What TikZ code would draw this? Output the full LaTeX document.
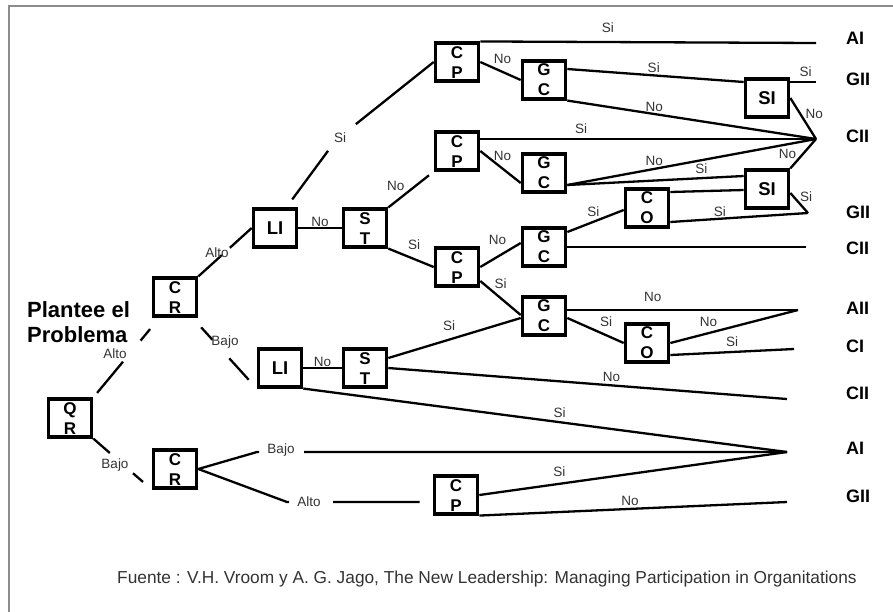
\documentclass[tikz,border=0pt]{standalone}
\usepackage{fontspec}
\setmainfont{Liberation Sans}
\usetikzlibrary{calc}
% two letters stacked inside a decision box, the lower one resting on the bottom edge
\newcommand\duo[2]{\vbox to 34pt{\vfil\baselineskip=20pt\lineskiplimit=-20pt
  \halign{\hfil##\hfil\cr#1\cr#2\cr}\vskip 1pt}}
\begin{document}
\begin{tikzpicture}[x=1pt,y=-1pt,
  box/.style={draw, line width=3.6pt, minimum width=43pt, minimum height=37.5pt,
    inner sep=0pt, font=\bfseries\fontsize{17}{17}\selectfont},
  single/.style={box, font=\bfseries\fontsize{18.5}{18.5}\selectfont},
  edge/.style={line width=2.3pt, line join=round},
  lbl/.style={font=\fontsize{13.5}{13.5}\selectfont, text=black!80, inner sep=1pt},
  outc/.style={anchor=west, font=\bfseries\fontsize{18}{18}\selectfont, inner sep=0pt},
  frame/.style={line width=2pt, draw=black!45},
]
\useasboundingbox (0,0) rectangle (893,611);
\fill[white] (0,0) rectangle (893,611);

% outer frame (runs off the right and bottom edges)
\draw[frame] (9,620) -- (9,6) -- (900,6);

% decision boxes
\node[box] (qr)  at (70,418)  {\duo{Q}{R}};
\node[box] (crt) at (175,297) {\duo{C}{R}};
\node[box] (crb) at (175,469) {\duo{C}{R}};
\node[single] (lit) at (275,228) {LI};
\node[box] (stt) at (365,228) {\duo{S}{T}};
\node[single] (lib) at (280,368) {LI};
\node[box] (stb) at (365,368) {\duo{S}{T}};
\node[box] (cp1) at (457,62)  {\duo{C}{P}};
\node[box] (cp2) at (457,151) {\duo{C}{P}};
\node[box] (cp3) at (457,267) {\duo{C}{P}};
\node[box] (cp4) at (456,495) {\duo{C}{P}};
\node[box] (gc1) at (544,80)  {\duo{G}{C}};
\node[box] (gc2) at (544,173) {\duo{G}{C}};
\node[box] (gc3) at (544,247) {\duo{G}{C}};
\node[box] (gc4) at (544,316) {\duo{G}{C}};
\node[box] (co1) at (647,208) {\duo{C}{O}};
\node[box] (co2) at (647,343) {\duo{C}{O}};
\node[single] (si1) at (767,98)  {SI};
\node[single] (si2) at (767,189) {SI};

% end points of the branches
\coordinate (e1)  at (816,43);
\coordinate (e2)  at (816,82);
\coordinate (e3)  at (816,139);
\coordinate (e4)  at (808,213);
\coordinate (e5)  at (806,247);
\coordinate (e6)  at (798,310);
\coordinate (e7)  at (794,349);
\coordinate (e8)  at (787,399);
\coordinate (e9)  at (787,452);
\coordinate (e10) at (787,502);
\coordinate (kb)  at (257,452);
\coordinate (ka)  at (287,502);
\coordinate (kl)  at (336,140);

% outcomes
\node[outc] (o1)  at (846,38.5)  {AI};
\node[outc] (o2)  at (846,79.5)  {GII};
\node[outc] (o3)  at (846,136.5) {CII};
\node[outc] (o4)  at (846,212.5) {GII};
\node[outc] (o5)  at (846,248.5) {CII};
\node[outc] (o6)  at (846,308.5) {AII};
\node[outc] (o7)  at (846,346)   {CI};
\node[outc] (o8)  at (846,393.5) {CII};
\node[outc] (o9)  at (846,448.5) {AI};
\node[outc] (o10) at (846,496.5) {GII};

% title and source
\node[anchor=north west, align=left, inner sep=0pt,
      font=\bfseries\fontsize{22}{25}\selectfont] (title) at (27,301) {Plantee el\\Problema};
\node[anchor=west, inner sep=0pt, text=black!80,
      font=\fontsize{17.3}{17.3}\selectfont] (src) at (117,579)
  {Fuente : V.H. Vroom y A. G. Jago, The New Leadership: Managing Participation in Organitations};

% left part of the tree (branches with a gap for the label)
\draw[edge, shorten <=5.9pt, shorten >=15pt, dash pattern=on 40.6pt off 27.5pt on 100pt]
  (qr.north east) -- ([xshift=8pt]crt.south west);
\node[lbl] (l1) at (115,354) {Alto};
\draw[edge, shorten >=11.6pt, dash pattern=on 21.9pt off 30.8pt on 100pt]
  (qr.south east) -- (crb.south west);
\node[lbl] (l2) at (115,465) {Bajo};
\draw[edge, dash pattern=on 31.9pt off 10.7pt on 100pt] (crt.north east) -- (lit.west);
\node[lbl] (l3) at (217,253) {Alto};
\draw[edge, shorten <=13.2pt, shorten >=11.9pt, dash pattern=on 16.8pt off 25pt on 100pt]
  ([xshift=-6pt]crt.south east) -- (lib.south west);
\node[lbl] (l4) at (225,342) {Bajo};
\draw[edge, shorten <=10pt, dash pattern=on 60.3pt off 38.9pt on 300pt]
  ([xshift=-12pt]lit.north east) -- (kl) -- (cp1.west);
\node[lbl] (l5) at (340,138) {Si};
\draw[edge, dash pattern=on 63.3pt off 45pt on 600pt] (crb.east) -- (kb) -- (e9);
\node[lbl] (l6) at (281,450) {Bajo};
\draw[edge, shorten >=13pt, dash pattern=on 96.8pt off 44pt on 300pt]
  (crb.east) -- (ka) -- ([yshift=-7pt]cp4.west);
\node[lbl] (l7) at (309,502) {Alto};

\draw[edge] (lit.east) -- node[lbl, above=-1pt] {No} (stt.west);
\draw[edge] (lib.east) -- node[lbl, above=-1pt] {No} (stb.west);
\draw[edge, shorten >=6pt] (stt.north east) -- node[lbl, pos=0.4, above left=0pt] {No} (cp2.south west);
\draw[edge] (stt.south east) -- node[lbl, pos=0.57, above=7pt] {Si} (cp3.west);

% upper branches
\draw[edge] (cp1.north east) -- node[lbl, pos=0.38, above=7pt] {Si} (e1);
\draw[edge] (cp1.east) -- node[lbl, pos=0.55, above=6pt] {No} (gc1.west);
\draw[edge] ([yshift=11pt]gc1.east) -- node[lbl, pos=0.49, above=1pt] {Si} ([yshift=16pt]si1.west);
\draw[edge] ([yshift=16pt]si1.east) -- node[lbl, pos=0.6, above=3pt] {Si} (e2);
\draw[edge] (gc1.south east) -- node[lbl, pos=0.35, above=0pt] {No} (e3);
\draw[edge] (si1.east) -- node[lbl, pos=0.4, right=3pt] {No} (e3);
\draw[edge] ([yshift=12pt]cp2.east) -- node[lbl, pos=0.3, above=3pt] {Si} (e3);
\draw[edge] (cp2.east) -- node[lbl, pos=0.55, above=6pt] {No} ([yshift=-10pt]gc2.west);
\draw[edge] ([yshift=-12pt]gc2.east) -- node[lbl, pos=0.35, above=1pt] {No} (e3);
\draw[edge] ([yshift=-12pt]gc2.east) -- node[lbl, pos=0.76, above=2pt] {Si} ([yshift=13pt]si2.west);
\draw[edge] (si2.north east) -- node[lbl, pos=0.5, left=5pt] {No} (e3);
\draw[edge] ([yshift=16pt]co1.east) -- ([yshift=-1pt]si2.west);
\draw[edge] ([yshift=-4pt]si2.east) -- node[lbl, pos=0.2, right=4pt] {Si} (e4);
\draw[edge] ([yshift=-14pt]co1.east) -- node[lbl, pos=0.36, above=0pt] {Si} (e4);
\draw[edge] (cp3.east) -- node[lbl, pos=0.5, above=8pt, xshift=-3pt] {No} ([yshift=4pt]gc3.west);
\draw[edge] ([yshift=15pt]gc3.east) -- node[lbl, pos=0.46, above=3pt] {Si} ([yshift=-2pt]co1.west);
\draw[edge] (gc3.east) -- (e5);
\draw[edge] ([yshift=-14pt]cp3.east) -- node[lbl, pos=0.3, above right=0pt] {Si} ([yshift=1pt]gc4.west);

% lower branches
\draw[edge] ([yshift=10pt]stb.east) -- node[lbl, pos=0.46, above=7pt] {Si} ([yshift=-2pt]gc4.west);
\draw[edge] ([yshift=6pt]gc4.east) -- node[lbl, pos=0.37, above=6pt] {No} (e6);
\draw[edge] ([yshift=-2pt]gc4.east) -- node[lbl, pos=0.69, above=6pt] {Si} (co2.west);
\draw[edge] (co2.east) -- node[lbl, pos=0.3, above=4pt] {No} (e6);
\draw[edge] ([yshift=-12pt]co2.east) -- node[lbl, pos=0.5, above=3pt] {Si} (e7);
\draw[edge] (stb.east) -- node[lbl, pos=0.56, above=1.5pt] {No} (e8);
\draw[edge] (lib.south east) -- node[lbl, pos=0.53, above=2pt] {Si} (e9);
\draw[edge] (cp4.east) -- node[lbl, pos=0.26, above=5.5pt] {Si} (e9);
\draw[edge] (cp4.south east) -- node[lbl, pos=0.49, above=1pt] {No} (e10);
\end{tikzpicture}
\end{document}
